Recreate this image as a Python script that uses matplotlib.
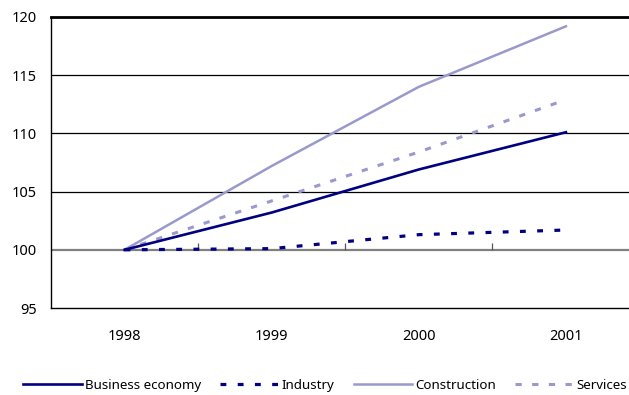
import numpy as np
import matplotlib.pyplot as plt

plt.rcParams['font.family'] = ['Noto Sans', 'DejaVu Sans']
plt.rcParams['lines.scale_dashes'] = False

# Index values, 1998 = 100
years = ['1998', '1999', '2000', '2001']
business = [100.0, 103.2, 106.9, 110.1]
industry = [100.0, 100.1, 101.3, 101.7]
construction = [100.0, 107.2, 114.0, 119.2]
services = [100.0, 104.2, 108.4, 112.9]

navy = '#000080'
lilac = '#9999cc'

fig = plt.figure(figsize=(6.29, 3.95), dpi=100)
ax = fig.add_axes([51/629, 87/395, 588.5/629, 291/395])

x = np.arange(len(years))

# gridlines and the 100 baseline
for v in [105, 110, 115]:
    ax.axhline(v, color='black', lw=0.9, zorder=1)
ax.axhline(100, color='#808080', lw=1.6, zorder=1)
ax.vlines([0.5, 1.5, 2.5], 100, 100.55, color='#555555', lw=0.9, zorder=1)

ax.plot(x, construction, color=lilac, lw=1.8, label='Construction', zorder=3)
ax.plot(x, services, color=lilac, lw=2.2, dashes=(4.5, 7.5), label='Services', zorder=3)
ax.plot(x, business, color=navy, lw=1.9, label='Business economy', zorder=4)
ax.plot(x, industry, color=navy, lw=2.3, dashes=(4.2, 8.2), label='Industry', zorder=4)

ax.set_xlim(-0.5, 3.5)
ax.set_ylim(95, 120)
ax.set_yticks([95, 100, 105, 110, 115, 120])
ax.set_xticks(x)
ax.set_xticklabels(years)
ax.tick_params(axis='x', length=0, pad=15, labelsize=10.5)
ax.tick_params(axis='y', length=0, pad=10, labelsize=10.5)

for s in ['left', 'bottom']:
    ax.spines[s].set_linewidth(1.0)
ax.spines['top'].set_linewidth(2.0)
ax.spines['right'].set_visible(False)

handles, labels = ax.get_legend_handles_labels()
order = [2, 3, 0, 1]
fig.legend([handles[i] for i in order], [labels[i] for i in order],
           loc='center left', bbox_to_anchor=(14/629, 0.025), ncol=4, frameon=False,
           fontsize=9.6, handlelength=4.4, handletextpad=0.2, columnspacing=1.45,
           borderpad=0.2)

fig.savefig('out.png', dpi=100)
